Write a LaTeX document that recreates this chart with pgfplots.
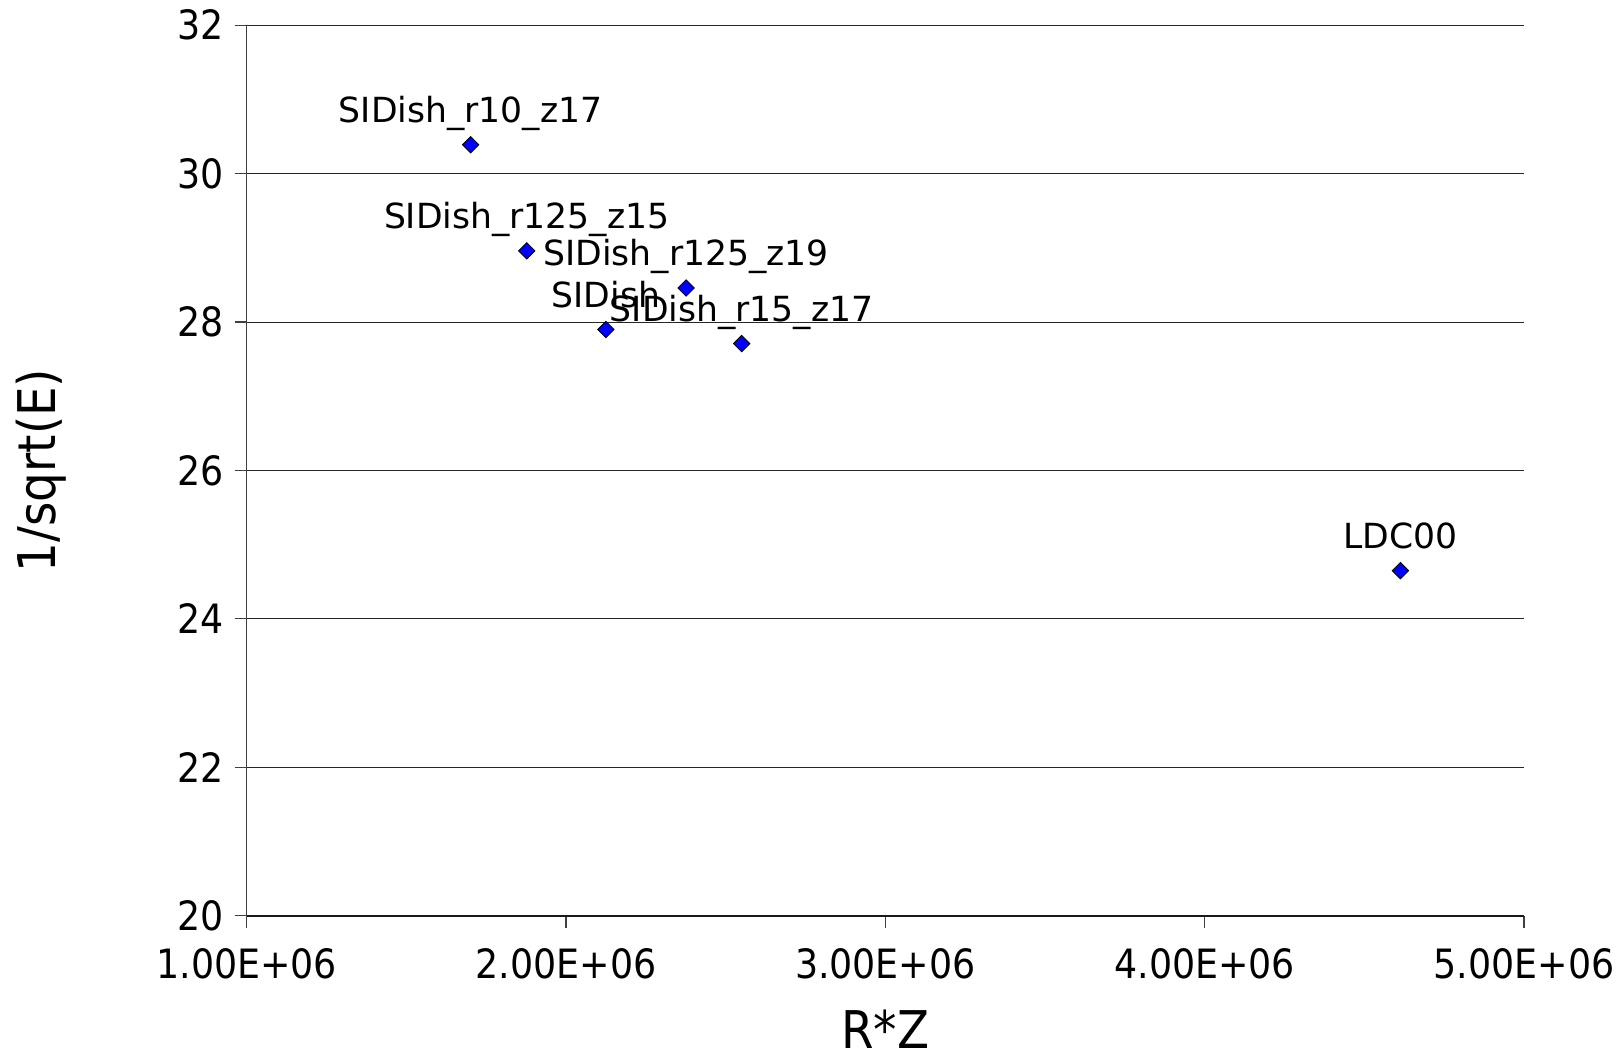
\documentclass[border=0pt]{standalone}
\usepackage{fontspec}
\setmainfont{DejaVu Sans}
\newfontfamily\condfont{DejaVu Sans Condensed}
\usepackage{pgfplots}
\pgfplotsset{compat=1.18}
\begin{document}
\begin{tikzpicture}
\useasboundingbox (-123.35pt,-71.15pt) rectangle (688.15pt,457.85pt);
\begin{axis}[
  scale only axis, width=638.65pt, height=445.2pt,
  xmin=1e6, xmax=5e6, ymin=20, ymax=32,
  axis x line*=bottom, axis y line*=left,
  xtick={1e6,2e6,3e6,4e6,5e6},
  xticklabels={1.00E+06,2.00E+06,3.00E+06,4.00E+06,5.00E+06},
  scaled x ticks=false,
  ytick={20,22,24,26,28,30,32},
  tick align=outside, major tick length=6pt,
  tick style={black!75, line width=0.6pt},
  ymajorgrids, grid style={black!85, line width=0.5pt},
  x axis line style={line width=1pt, black!90},
  y axis line style={line width=0.6pt, black!75},
  /pgf/number format/assume math mode=true,
  ticklabel style={font=\condfont\fontsize{20.2}{24}\selectfont, inner sep=0pt},
  yticklabel style={xshift=-5.3pt},
  xticklabel style={yshift=-10pt},
  xlabel={R*Z}, ylabel={1/sqrt(E)},
  label style={font=\condfont\fontsize{26}{30}\selectfont, inner sep=0pt},
  xlabel style={at={(axis description cs:0.5,-0.1490)}, anchor=base},
  ylabel style={at={(axis description cs:-0.1607,0.5)}, anchor=center},
  nodes near coords, point meta=explicit symbolic,
  nodes near coords align={anchor=base},
  every node near coord/.append style={font=\fontsize{17.3}{20}\selectfont, yshift=11pt, inner sep=0pt, text=black},
]
\addplot[only marks, mark=square*, mark size=2.9pt,
  mark options={rotate=45, fill={rgb,255:red,0;green,0;blue,255}, draw=black, line width=0.4pt}]
coordinates {
  (1.7015e6,30.39) [SIDish\_r10\_z17]
  (1.877e6,28.96) [SIDish\_r125\_z15]
  (2.376e6,28.46) [SIDish\_r125\_z19]
  (2.125e6,27.90) [SIDish]
  (2.550e6,27.71) [SIDish\_r15\_z17]
  (4.613e6,24.65) [LDC00]
};
\end{axis}
\end{tikzpicture}
\end{document}
